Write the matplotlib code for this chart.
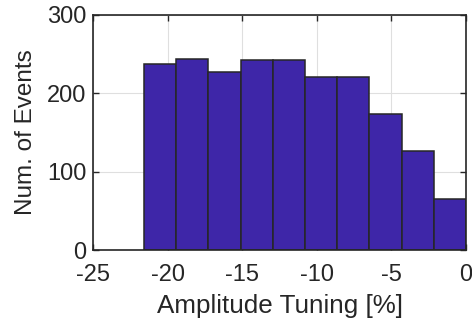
import matplotlib
matplotlib.use("Agg")
import matplotlib.pyplot as plt
import numpy as np

# Histogram of amplitude tuning over all events
bin_edges = [-21.6, -19.44, -17.28, -15.12, -12.96, -10.8, -8.64, -6.48, -4.32, -2.16, 0.0]
counts = [237, 244, 227, 242, 242, 221, 221, 174, 127, 65]
x_ticks = [-25, -20, -15, -10, -5, 0]
y_ticks = [0, 100, 200, 300]

INK = "#262626"
BAR = "#3e26a8"
GRID = "#dfdfdf"

plt.rcParams["font.family"] = ["Liberation Sans", "DejaVu Sans"]

fig = plt.figure(figsize=(4.72, 3.24), dpi=100)
ax = fig.add_axes([0.198, 0.227, 0.789, 0.728])

edges = np.array(bin_edges)
ax.bar(edges[:-1], counts, width=np.diff(edges), align="edge",
       color=BAR, edgecolor=INK, linewidth=1.1, zorder=3)

ax.set_xlim(-25, 0)
ax.set_ylim(0, 300)
ax.set_xticks(x_ticks)
ax.set_yticks(y_ticks)
ax.set_xticklabels([str(t) for t in x_ticks])
ax.grid(True, color=GRID, linewidth=0.8, zorder=0)

ax.tick_params(direction="in", length=4, width=1.0, colors=INK,
               labelsize=17, top=True, right=True)
ax.tick_params(axis="x", pad=9.5)
ax.tick_params(axis="y", pad=5)
for s in ax.spines.values():
    s.set_color(INK)
    s.set_linewidth(1.2)
    s.set_zorder(4)

ax.set_xlabel("Amplitude Tuning [%]", fontsize=18.7, color=INK, labelpad=6)
ax.set_ylabel("Num. of Events", fontsize=17.5, color=INK, labelpad=7)

fig.savefig("out.png", dpi=100, facecolor="white")
